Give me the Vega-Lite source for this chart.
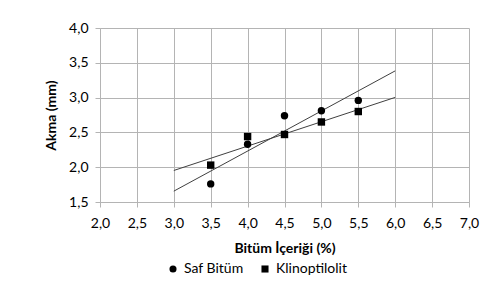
{
  "$schema": "https://vega.github.io/schema/vega-lite/v6.json",
  "width": 369,
  "height": 174,
  "autosize": {"type": "none"},
  "padding": {"left": 100, "top": 28, "right": 35, "bottom": 96},
  "background": "white",
  "config": {
    "font": "Lato",
    "view": {"stroke": null},
    "axis": {
      "labelFont": "Lato",
      "labelFontSize": 14,
      "labelColor": "#000000",
      "labelOverlap": false,
      "labelFlush": false,
      "titleFont": "Lato",
      "titleFontSize": 14,
      "titleFontWeight": "bold",
      "titleColor": "#000000",
      "gridColor": "#b4b4b4",
      "gridOpacity": 1,
      "domainColor": "#b4b4b4",
      "tickColor": "#b4b4b4",
      "tickSize": 5
    },
    "legend": {"labelFont": "Lato", "labelFontSize": 14, "labelColor": "#000000"}
  },
  "data": {
    "values": [
      {"x": 3.5, "y": 1.76, "series": "Saf Bitüm"},
      {"x": 4.0, "y": 2.33, "series": "Saf Bitüm"},
      {"x": 4.5, "y": 2.74, "series": "Saf Bitüm"},
      {"x": 5.0, "y": 2.81, "series": "Saf Bitüm"},
      {"x": 5.5, "y": 2.96, "series": "Saf Bitüm"},
      {"x": 3.5, "y": 2.03, "series": "Klinoptilolit"},
      {"x": 4.0, "y": 2.44, "series": "Klinoptilolit"},
      {"x": 4.5, "y": 2.47, "series": "Klinoptilolit"},
      {"x": 5.0, "y": 2.65, "series": "Klinoptilolit"},
      {"x": 5.5, "y": 2.80, "series": "Klinoptilolit"}
    ]
  },
  "encoding": {
    "x": {
      "field": "x",
      "type": "quantitative",
      "scale": {"domain": [2, 7], "nice": false, "zero": false},
      "axis": {
        "title": "Bitüm İçeriği (%)",
        "values": [2, 2.5, 3, 3.5, 4, 4.5, 5, 5.5, 6, 6.5, 7],
        "labelExpr": "replace(format(datum.value, '.1f'), '.', ',')",
        "labelPadding": 9,
        "titlePadding": 11
      }
    },
    "y": {
      "field": "y",
      "type": "quantitative",
      "scale": {"domain": [1.5, 4], "nice": false, "zero": false},
      "axis": {
        "title": "Akma (mm)",
        "values": [1.5, 2, 2.5, 3, 3.5, 4],
        "labelExpr": "replace(format(datum.value, '.1f'), '.', ',')",
        "labelPadding": 7,
        "titlePadding": 10
      }
    }
  },
  "layer": [
    {
      "transform": [
        {"regression": "y", "on": "x", "groupby": ["series"], "extent": [3, 6]}
      ],
      "mark": {"type": "line", "color": "#404040", "strokeWidth": 1},
      "encoding": {
        "detail": {"field": "series"}
      }
    },
    {
      "mark": {"type": "point", "filled": true, "opacity": 1, "color": "#000000", "size": 55},
      "encoding": {
        "shape": {
          "field": "series",
          "type": "nominal",
          "scale": {"domain": ["Saf Bitüm", "Klinoptilolit"], "range": ["circle", "square"]},
          "legend": {
            "title": null,
            "orient": "none",
            "legendX": 66,
            "legendY": 234,
            "direction": "horizontal",
            "symbolFillColor": "#000000",
            "symbolStrokeColor": "#000000",
            "symbolSize": 50,
            "columnPadding": 14
          }
        }
      }
    }
  ]
}
